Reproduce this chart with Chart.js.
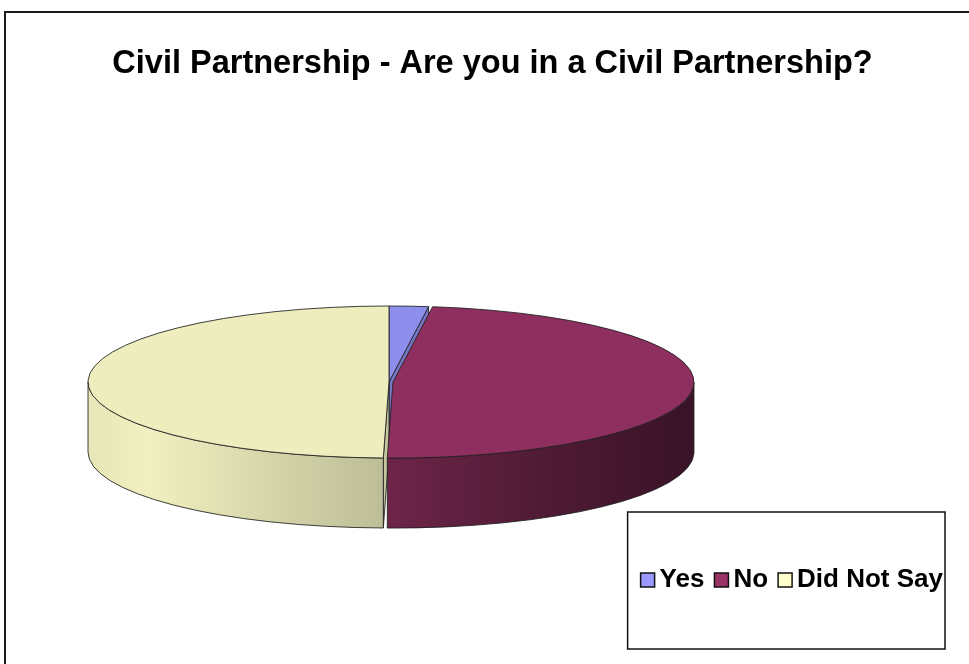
<!DOCTYPE html>
<html>
<head>
<meta charset="utf-8">
<title>Civil Partnership</title>
<script src="https://cdn.jsdelivr.net/npm/chart.js@4/dist/chart.umd.min.js"></script>
<style>
  html, body { margin: 0; padding: 0; background: #fff; overflow: hidden; }
  canvas { display: block; }
</style>
</head>
<body>
<canvas id="chart" width="969" height="664"></canvas>
<script>
const categories = ['Yes', 'No', 'Did Not Say'];
const shares = [2.1, 48.2, 49.7];
const palette = ['#9999FF', '#993366', '#FFFFCC'];
const explode = [0, 4, 0];

const FONT = '"Liberation Sans", Arial, Helvetica, sans-serif';
const KEY_SIZE = 14;

function rgbOf(hex) {
  const n = parseInt(hex.slice(1), 16);
  return [(n >> 16) & 255, (n >> 8) & 255, n & 255];
}
function shade(hex, f) {
  const c = rgbOf(hex).map(v => Math.round(Math.min(255, v * f)));
  return 'rgb(' + c.join(',') + ')';
}

// side of the cake gets darker from left to right
const wallStops = [[0, 0.90], [0.1, 0.94], [0.49, 0.74], [0.5, 0.71], [0.75, 0.52], [1, 0.38]];

// outer frame of the chart, legend keys and the box round the legend
const frame = {
  id: 'frame',
  beforeDraw(chart) {
    const ctx = chart.ctx;
    ctx.save();
    ctx.strokeStyle = '#1a1a1a';
    ctx.lineWidth = 2;
    ctx.beginPath();
    ctx.moveTo(5, chart.height + 5);
    ctx.lineTo(5, 12);
    ctx.lineTo(chart.width + 5, 12);
    ctx.stroke();
    ctx.restore();
  },
  afterDraw(chart) {
    const boxes = chart.legend.legendHitBoxes;
    if (!boxes || !boxes.length) return;
    const first = boxes[0], last = boxes[boxes.length - 1];
    const mid = first.top + first.height / 2;
    const ctx = chart.ctx;
    const colours = chart.data.datasets[0].backgroundColor;
    ctx.save();
    // the keys sit closer to their text than the legend would put them
    ctx.lineWidth = 1.5;
    ctx.strokeStyle = '#111';
    boxes.forEach((b, i) => {
      const top = mid - KEY_SIZE / 2;
      ctx.fillStyle = colours[i];
      ctx.fillRect(b.left, top, KEY_SIZE, KEY_SIZE);
      ctx.strokeRect(b.left, top, KEY_SIZE, KEY_SIZE);
    });
    const left = first.left - 13;
    ctx.strokeRect(left, mid - 68, last.left + last.width + 2 - left, 137);
    ctx.restore();
  }
};

// draws the pie as a tilted cake with a side wall
const cake = {
  id: 'cake',
  beforeDatasetsDraw(chart, args, opts) {
    const ctx = chart.ctx;
    const meta = chart.getDatasetMeta(0);
    const cx = opts.x, cy = opts.y, tilt = opts.tilt, depth = opts.depth;
    const slices = meta.data.map(arc => {
      const p = arc.getProps(['startAngle', 'endAngle', 'outerRadius']);
      const mid = (p.startAngle + p.endAngle) / 2;
      const off = arc.options.offset || 0;
      return {
        a0: p.startAngle, a1: p.endAngle, r: p.outerRadius,
        x: cx + Math.cos(mid) * off,
        y: cy + Math.sin(mid) * off * tilt,
        colour: arc.options.backgroundColor
      };
    });

    ctx.save();
    ctx.lineWidth = 1;
    ctx.lineJoin = 'round';
    ctx.strokeStyle = 'rgba(30,30,30,0.85)';

    // cut faces, only the ones turned to the front
    slices.forEach(s => {
      [[s.a0, -Math.cos(s.a0)], [s.a1, Math.cos(s.a1)]].forEach(([a, facing]) => {
        if (facing <= 0.001) return;
        const ex = s.x + Math.cos(a) * s.r;
        const ey = s.y + Math.sin(a) * s.r * tilt;
        ctx.beginPath();
        ctx.moveTo(s.x, s.y);
        ctx.lineTo(ex, ey);
        ctx.lineTo(ex, ey + depth);
        ctx.lineTo(s.x, s.y + depth);
        ctx.closePath();
        ctx.fillStyle = shade(s.colour, 0.78);
        ctx.fill();
        ctx.stroke();
      });
    });

    // outer wall, front half only
    slices.forEach(s => {
      const lo = Math.max(s.a0, 0), hi = Math.min(s.a1, Math.PI);
      if (hi <= lo) return;
      const g = ctx.createLinearGradient(cx - s.r, 0, cx + s.r, 0);
      wallStops.forEach(([p, f]) => g.addColorStop(p, shade(s.colour, f)));
      ctx.beginPath();
      ctx.ellipse(s.x, s.y, s.r, s.r * tilt, 0, lo, hi);
      ctx.ellipse(s.x, s.y + depth, s.r, s.r * tilt, 0, hi, lo, true);
      ctx.closePath();
      ctx.fillStyle = g;
      ctx.fill();
      ctx.stroke();
    });

    // top faces
    slices.forEach(s => {
      ctx.beginPath();
      ctx.moveTo(s.x, s.y);
      ctx.ellipse(s.x, s.y, s.r, s.r * tilt, 0, s.a0, s.a1);
      ctx.closePath();
      ctx.fillStyle = shade(s.colour, 0.93);
      ctx.fill();
      ctx.stroke();
    });

    ctx.restore();
    return false;
  }
};

new Chart(document.getElementById('chart'), {
  type: 'pie',
  data: {
    labels: categories,
    datasets: [{
      data: shares,
      backgroundColor: palette,
      borderColor: '#111',
      borderWidth: 1.5,
      offset: explode
    }]
  },
  options: {
    responsive: false,
    animation: false,
    events: [],
    radius: 301,
    layout: { padding: { left: 32, right: 16, top: 0, bottom: 61 } },
    plugins: {
      title: {
        display: true,
        text: 'Civil Partnership - Are you in a Civil Partnership?',
        color: '#000',
        font: { family: FONT, size: 32.5, weight: 'bold' },
        padding: { top: 45, bottom: 10 }
      },
      legend: {
        position: 'bottom',
        align: 'end',
        labels: {
          boxWidth: 6,
          boxHeight: KEY_SIZE,
          padding: 10,
          color: '#000',
          font: { family: FONT, size: 26, weight: 'bold' },
          // keys are painted by the frame plugin
          generateLabels(chart) {
            return Chart.overrides.pie.plugins.legend.labels.generateLabels(chart).map(item => ({
              ...item, fillStyle: 'rgba(0,0,0,0)', strokeStyle: 'rgba(0,0,0,0)', lineWidth: 0
            }));
          }
        }
      },
      tooltip: { enabled: false },
      cake: { x: 389, y: 382, tilt: 0.2525, depth: 70 }
    }
  },
  plugins: [frame, cake]
});
</script>
</body>
</html>
